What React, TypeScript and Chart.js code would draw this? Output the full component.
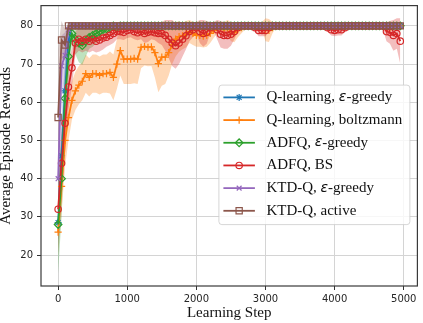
import React, { useEffect, useRef } from "react";
import { Chart, registerables } from "chart.js";
import { drawPoint } from "chart.js/helpers";

Chart.register(...registerables);

// Learning steps at which each curve was evaluated
const STEPS = Array.from({ length: 100 }, (_, i) => i * 50);
const X_TICKS = [0, 1000, 2000, 3000, 4000, 5000];
const Y_TICKS = [20, 30, 40, 50, 60, 70, 80];

const NAMES = [
  "Q-learning, ε-greedy",
  "Q-learning, boltzmann",
  "ADFQ, ε-greedy",
  "ADFQ, BS",
  "KTD-Q, ε-greedy",
  "KTD-Q, active",
];

const QL_EGREEDY_MEAN = [
  28.5, 46, 63, 76, 80, 80, 80, 80, 80, 80,
  80, 80, 80, 80, 80, 80, 80, 80, 80, 80,
  80, 80, 80, 80, 80, 80, 80, 80, 80, 80,
  80, 80, 80, 80, 80, 80, 80, 80, 80, 80,
  80, 80, 80, 80, 80, 80, 80, 80, 80, 80,
  80, 80, 80, 80, 80, 80, 80, 80, 80, 80,
  80, 80, 80, 80, 80, 80, 80, 80, 80, 80,
  80, 80, 80, 80, 80, 80, 80, 80, 80, 80,
  80, 80, 80, 80, 80, 80, 80, 80, 80, 80,
  80, 80, 80, 80, 80, 80, 80, 80, 80, 80,
];
const QL_EGREEDY_STD = [
  8, 10, 8, 4, 1, 0, 0, 0, 0, 0,
  0, 0, 0, 0, 0, 0, 0, 0, 0, 0,
  0, 0, 0, 0, 0, 0, 0, 0, 0, 0,
  0, 0, 0, 0, 0, 0, 0, 0, 0, 0,
  0, 0, 0, 0, 0, 0, 0, 0, 0, 0,
  0, 0, 0, 0, 0, 0, 0, 0, 0, 0,
  0, 0, 0, 0, 0, 0, 0, 0, 0, 0,
  0, 0, 0, 0, 0, 0, 0, 0, 0, 0,
  0, 0, 0, 0, 0, 0, 0, 0, 0, 0,
  0, 0, 0, 0, 0, 0, 0, 0, 0, 0,
];

const QL_BOLTZ_MEAN = [
  26, 38, 50, 56, 60.5, 63, 64.5, 65.5, 67.5, 66.5,
  67.5, 67.5, 67, 67.5, 67.5, 67.8, 66.5, 70, 73.5, 71.3,
  71.3, 71.3, 71.5, 71.3, 74.4, 74.6, 74.4, 74.5, 73, 70.1,
  71.8, 71.8, 73, 75, 76.5, 77.2, 77.4, 77.8, 78.5, 78,
  77.5, 77.5, 77.3, 77.5, 78, 78.8, 79.5, 79.5, 79, 79.5,
  78.5, 78.2, 79, 79.5, 80, 80, 80, 80, 80, 80,
  79, 78.8, 79.5, 80, 80, 80, 80, 80, 80, 80,
  80, 80, 80, 80, 80, 80, 80, 80, 80, 80,
  80, 80, 80, 80, 80, 80, 80, 80, 80, 80,
  80, 80, 80, 80, 80, 79.5, 79.5, 80, 80, 80,
];
const QL_BOLTZ_STD = [
  6, 7, 7, 6, 5, 5, 5, 5, 5, 5,
  5, 5, 5, 5, 5, 5.5, 6, 6.5, 6.5, 6.5,
  6.5, 6.5, 6.5, 6.5, 5.5, 5, 5, 5, 6.5, 7.5,
  7.5, 7, 6, 5, 4.5, 4, 3.5, 3.5, 3, 3,
  3, 3, 3, 3, 2.5, 2, 1.5, 1.5, 2, 2,
  2.5, 2.5, 2, 1.5, 1, 1, 1, 1, 1, 1,
  3, 3, 1.5, 0.5, 0.5, 0.5, 0.5, 0.5, 0.5, 0.5,
  0.5, 0.5, 0.5, 0.5, 0.5, 0.5, 0.5, 0.5, 0.5, 0.5,
  0.5, 0.5, 0.5, 0.5, 0.5, 0.5, 0.5, 0.5, 0.5, 0.5,
  0.5, 0.5, 0.5, 0.5, 0.5, 1, 1, 0.5, 0.5, 0.5,
];

const ADFQ_EGREEDY_MEAN = [
  28, 40, 61, 72, 78, 76.5, 75.5, 74.8, 76, 77,
  77.5, 78, 78.5, 79, 79.2, 79.5, 80, 79.5, 80, 80,
  80, 80, 80, 80, 80, 80, 80, 80, 80, 80,
  80, 80, 80, 80, 80, 80, 80, 80, 80, 80,
  80, 80, 80, 80, 80, 80, 80, 80, 80, 80,
  80, 80, 80, 80, 80, 80, 80, 80, 80, 80,
  80, 80, 80, 80, 80, 80, 80, 80, 80, 80,
  80, 80, 80, 80, 80, 80, 80, 80, 80, 80,
  80, 80, 80, 80, 80, 80, 80, 80, 80, 80,
  80, 80, 80, 80, 80, 80, 80, 80, 80, 80,
];
const ADFQ_EGREEDY_STD = [
  12.8, 10, 8, 6, 3, 4, 5, 5, 4, 3,
  3, 2.5, 2, 1.5, 1.2, 1, 0.5, 1, 0, 0,
  0, 0, 0, 0, 0, 0, 0, 0, 0, 0,
  0, 0, 0, 0, 0, 0, 0, 0, 0, 0,
  0, 0, 0, 0, 0, 0, 0, 0, 0, 0,
  0, 0, 0, 0, 0, 0, 0, 0, 0, 0,
  0, 0, 0, 0, 0, 0, 0, 0, 0, 0,
  0, 0, 0, 0, 0, 0, 0, 0, 0, 0,
  0, 0, 0, 0, 0, 0, 0, 0, 0, 0,
  0, 0, 0, 0, 0, 0, 0, 0, 0, 0,
];

const ADFQ_BS_MEAN = [
  32, 44, 54.5, 64, 69, 75.5, 76.5, 76, 76.5, 76,
  76.5, 76, 76.3, 76.8, 77, 77.5, 78, 78.5, 78.5, 78.3,
  78.8, 79, 78.5, 78.2, 78.5, 78, 78.3, 78.5, 78.2, 78,
  78, 77.5, 76.5, 75.5, 74.8, 75.5, 76.5, 77.4, 78.5, 79,
  79.5, 78.5, 78, 78.3, 79.5, 80, 79, 77.8, 77.5, 77.5,
  77.8, 78.5, 79.5, 80, 80, 80, 80, 79.5, 78.8, 78.8,
  78.8, 79.5, 80, 80, 80, 80, 80, 80, 80, 80,
  80, 80, 80, 80, 80, 80, 80, 80, 79.5, 79,
  78.8, 79, 79, 79.5, 80, 80, 80, 80, 80, 80,
  80, 80, 80, 80, 80, 78.5, 78.3, 77.5, 78, 76,
];
const ADFQ_BS_STD = [
  8, 9, 8, 6, 5, 3, 3, 3, 3, 3,
  3, 3, 3, 3, 2.5, 2.5, 2.5, 2, 2, 2,
  2, 2, 2, 2, 2, 2.5, 2.5, 2, 2, 2.5,
  3, 4, 5, 6, 6, 5.5, 4.5, 3.5, 2.5, 2,
  1.5, 3, 3.5, 3, 1.5, 1, 2.5, 3.5, 3.5, 3.5,
  3, 2, 1, 0.5, 0.5, 0.5, 0.5, 1, 1.5, 1.5,
  1.5, 1, 0.5, 0.5, 0.5, 0.5, 0.5, 0.5, 0.5, 0.5,
  0.5, 0.5, 0.5, 0.5, 0.5, 0.5, 0.5, 0.5, 1, 1.5,
  1.5, 1.5, 1.5, 1, 0.5, 0.5, 0.5, 0.5, 0.5, 0.5,
  0.5, 0.5, 0.5, 0.5, 1, 2.5, 3, 4, 4, 6,
];

const KTD_EGREEDY_MEAN = [
  40, 69.5, 72.3, 79, 80, 80, 80, 80, 80, 80,
  80, 80, 80, 80, 80, 80, 80, 80, 80, 80,
  80, 80, 80, 80, 80, 80, 80, 80, 80, 80,
  80, 80, 80, 80, 80, 80, 80, 80, 80, 80,
  80, 80, 80, 80, 80, 80, 80, 80, 80, 80,
  80, 80, 80, 80, 80, 80, 80, 80, 80, 80,
  80, 80, 80, 80, 80, 80, 80, 80, 80, 80,
  80, 80, 80, 80, 80, 80, 80, 80, 80, 80,
  80, 80, 80, 80, 80, 80, 80, 80, 80, 80,
  80, 80, 80, 80, 80, 80, 80, 80, 80, 80,
];
const KTD_EGREEDY_STD = [
  12, 8, 6, 2, 0.5, 0, 0, 0, 0, 0,
  0, 0, 0, 0, 0, 0, 0, 0, 0, 0,
  0, 0, 0, 0, 0, 0, 0, 0, 0, 0,
  0, 0, 0, 0, 0, 0, 0, 0, 0, 0,
  0, 0, 0, 0, 0, 0, 0, 0, 0, 0,
  0, 0, 0, 0, 0, 0, 0, 0, 0, 0,
  0, 0, 0, 0, 0, 0, 0, 0, 0, 0,
  0, 0, 0, 0, 0, 0, 0, 0, 0, 0,
  0, 0, 0, 0, 0, 0, 0, 0, 0, 0,
  0, 0, 0, 0, 0, 0, 0, 0, 0, 0,
];

const KTD_ACTIVE_MEAN = [
  56, 76.3, 75, 80, 80, 80, 80, 80, 80, 80,
  80, 80, 80, 80, 80, 80, 80, 80, 80, 80,
  80, 80, 80, 80, 80, 80, 80, 80, 80, 80,
  80, 80, 80, 80, 80, 80, 80, 80, 80, 80,
  80, 80, 80, 80, 80, 80, 80, 80, 80, 80,
  80, 80, 80, 80, 80, 80, 80, 80, 80, 80,
  80, 80, 80, 80, 80, 80, 80, 80, 80, 80,
  80, 80, 80, 80, 80, 80, 80, 80, 80, 80,
  80, 80, 80, 80, 80, 80, 80, 80, 80, 80,
  80, 80, 80, 80, 80, 80, 80, 80, 80, 80,
];
const KTD_ACTIVE_STD = [
  18, 5, 4, 1, 0, 0, 0, 0, 0, 0,
  0, 0, 0, 0, 0, 0, 0, 0, 0, 0,
  0, 0, 0, 0, 0, 0, 0, 0, 0, 0,
  0, 0, 0, 0, 0, 0, 0, 0, 0, 0,
  0, 0, 0, 0, 0, 0, 0, 0, 0, 0,
  0, 0, 0, 0, 0, 0, 0, 0, 0, 0,
  0, 0, 0, 0, 0, 0, 0, 0, 0, 0,
  0, 0, 0, 0, 0, 0, 0, 0, 0, 0,
  0, 0, 0, 0, 0, 0, 0, 0, 0, 0,
  0, 0, 0, 0, 0, 0, 0, 0, 0, 0,
];

const MEANS = [QL_EGREEDY_MEAN, QL_BOLTZ_MEAN, ADFQ_EGREEDY_MEAN, ADFQ_BS_MEAN, KTD_EGREEDY_MEAN, KTD_ACTIVE_MEAN];
const STDS = [QL_EGREEDY_STD, QL_BOLTZ_STD, ADFQ_EGREEDY_STD, ADFQ_BS_STD, KTD_EGREEDY_STD, KTD_ACTIVE_STD];

// styles
const COLORS = ["#1f77b4", "#ff7f0e", "#2ca02c", "#d62728", "#9467bd", "#8c564b"];
const BAND_COLORS = [
  "rgba(31,119,180,0.3)",
  "rgba(255,127,14,0.3)",
  "rgba(44,160,44,0.3)",
  "rgba(214,39,40,0.3)",
  "rgba(148,103,189,0.3)",
  "rgba(140,86,75,0.3)",
];
const POINT_STYLES = ["star", "cross", "rectRot", "circle", "crossRot", "rect"];
const POINT_RADII = [3.5, 3.6, 3.8, 3.2, 3.4, 4.4];

const SERIF = "'Liberation Serif', 'Times New Roman', serif";
const SANS = "'DejaVu Sans', sans-serif";

const framePlugin = {
  id: "frame",
  afterDatasetsDraw(chart: any) {
    const { ctx, chartArea } = chart;
    const { left, top, right, bottom } = chartArea;
    ctx.save();
    ctx.strokeStyle = "#3a3a3a";
    ctx.lineWidth = 1.2;
    ctx.strokeRect(left, top, right - left, bottom - top);
    ctx.restore();
  },
};

const legendPlugin = {
  id: "mplLegend",
  afterDraw(chart: any) {
    const { ctx, chartArea } = chart;
    const boxR = chartArea.right - 7.5;
    const boxL = boxR - 191;
    const boxT = chartArea.top + 79.5;
    const boxH = 139.5;
    const r = 3;
    ctx.save();
    ctx.beginPath();
    ctx.moveTo(boxL + r, boxT);
    ctx.lineTo(boxR - r, boxT);
    ctx.arcTo(boxR, boxT, boxR, boxT + r, r);
    ctx.lineTo(boxR, boxT + boxH - r);
    ctx.arcTo(boxR, boxT + boxH, boxR - r, boxT + boxH, r);
    ctx.lineTo(boxL + r, boxT + boxH);
    ctx.arcTo(boxL, boxT + boxH, boxL, boxT + boxH - r, r);
    ctx.lineTo(boxL, boxT + r);
    ctx.arcTo(boxL, boxT, boxL + r, boxT, r);
    ctx.closePath();
    ctx.fillStyle = "rgba(255,255,255,0.8)";
    ctx.fill();
    ctx.strokeStyle = "rgba(204,204,204,0.8)";
    ctx.lineWidth = 1;
    ctx.stroke();

    NAMES.forEach((name, k) => {
      const y = boxT + 12.3 + k * 22.68;
      const x0 = boxL + 4.5;
      const x1 = boxL + 36;
      ctx.strokeStyle = COLORS[k];
      ctx.lineWidth = 1.8;
      ctx.beginPath();
      ctx.moveTo(x0, y);
      ctx.lineTo(x1, y);
      ctx.stroke();
      ctx.fillStyle = "rgba(255,255,255,0)";
      ctx.lineWidth = 1.2;
      drawPoint(ctx, { pointStyle: POINT_STYLES[k], radius: POINT_RADII[k], borderWidth: 1.2, rotation: 0 } as any, (x0 + x1) / 2, y);

      let tx = boxL + 47.5;
      ctx.fillStyle = "#111";
      ctx.textBaseline = "middle";
      ctx.textAlign = "left";
      const parts = name.split("ε");
      parts.forEach((part, j) => {
        if (j > 0) {
          ctx.font = `italic 14px ${SANS}`;
          ctx.fillText("ε", tx, y);
          tx += ctx.measureText("ε").width;
        }
        ctx.font = `15px ${SERIF}`;
        ctx.fillText(part, tx, y);
        tx += ctx.measureText(part).width;
      });
    });
    ctx.restore();
  },
};

function buildDatasets() {
  const ds: any[] = [];
  MEANS.forEach((mean, k) => {
    const std = STDS[k];
    ds.push({
      label: `lo${k}`,
      data: STEPS.map((x, i) => ({ x, y: mean[i] - std[i] })),
      borderColor: "rgba(0,0,0,0)",
      borderWidth: 0,
      pointRadius: 0,
      fill: false,
      order: 106 - k,
      tension: 0,
    });
    ds.push({
      label: `hi${k}`,
      data: STEPS.map((x, i) => ({ x, y: mean[i] + std[i] })),
      borderColor: "rgba(0,0,0,0)",
      borderWidth: 0,
      pointRadius: 0,
      backgroundColor: BAND_COLORS[k],
      fill: "-1",
      order: 106 - k,
      tension: 0,
    });
  });
  MEANS.forEach((mean, k) => {
    ds.push({
      label: NAMES[k],
      data: STEPS.map((x, i) => ({ x, y: mean[i] })),
      borderColor: COLORS[k],
      backgroundColor: COLORS[k],
      borderWidth: 1.8,
      pointStyle: POINT_STYLES[k],
      pointRadius: POINT_RADII[k],
      pointBorderColor: COLORS[k],
      pointBackgroundColor: "rgba(0,0,0,0)",
      pointBorderWidth: 1.2,
      fill: false,
      order: 16 - k,
      tension: 0,
    });
  });
  return ds;
}

export default function App() {
  const ref = useRef<HTMLCanvasElement>(null);
  useEffect(() => {
    if (!ref.current) return;
    const chart = new Chart(ref.current, {
      type: "line",
      data: { datasets: buildDatasets() },
      options: {
        responsive: false,
        animation: false,
        devicePixelRatio: 1,
        events: [],
        layout: { padding: { left: 0, right: 3, top: 3, bottom: 0 } },
        plugins: { legend: { display: false }, tooltip: { enabled: false } },
        scales: {
          x: {
            type: "linear",
            min: -247.5,
            max: 5197.5,
            afterBuildTicks: (s: any) => {
              s.ticks = X_TICKS.map((v) => ({ value: v }));
            },
            afterFit: (s: any) => {
              s.height = 37;
              s.paddingLeft = 0;
              s.paddingRight = 0;
            },
            ticks: {
              autoSkip: false,
              maxRotation: 0,
              padding: 3,
              color: "#262626",
              font: { family: SANS, size: 10 },
              callback: (v: any) => String(v),
            },
            grid: { color: "#d4d4d4", lineWidth: 1, tickLength: 4, tickColor: "#333", tickWidth: 1 },
            border: { display: false },
            title: {
              display: true,
              text: "Learning Step",
              color: "#111",
              font: { family: SERIF, size: 15, lineHeight: 0.87 },
              padding: { top: 0, bottom: 3.4 },
            },
          },
          y: {
            type: "linear",
            min: 11.9,
            max: 85.3,
            afterBuildTicks: (s: any) => {
              s.ticks = Y_TICKS.map((v) => ({ value: v }));
            },
            afterFit: (s: any) => {
              s.width = 41;
              s.paddingTop = 0;
              s.paddingBottom = 0;
            },
            ticks: {
              autoSkip: false,
              padding: 4,
              color: "#262626",
              font: { family: SANS, size: 10 },
              callback: (v: any) => String(v),
            },
            grid: { color: "#d4d4d4", lineWidth: 1, tickLength: 4, tickColor: "#333", tickWidth: 1 },
            border: { display: false },
            title: {
              display: true,
              text: "Average Episode Rewards",
              color: "#111",
              font: { family: SERIF, size: 15, lineHeight: 0.87 },
              padding: { top: 0, bottom: 0 },
            },
          },
        },
      },
      plugins: [framePlugin, legendPlugin],
    } as any);
    return () => chart.destroy();
  }, []);
  return (
    <div style={{ position: "absolute", left: 0, top: 0, width: 423, height: 323, background: "#fff" }}>
      <canvas ref={ref} width={423} height={323} style={{ display: "block" }} />
    </div>
  );
}
